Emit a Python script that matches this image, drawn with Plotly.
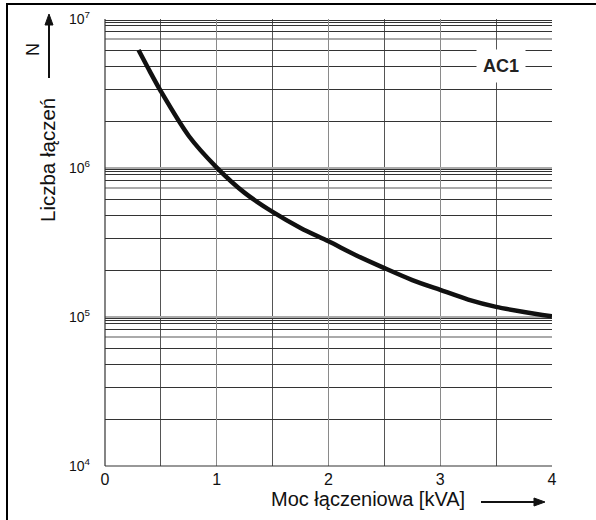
import math
import plotly.graph_objects as go

# Data
power_kva = [0.3, 0.4, 0.5, 0.75, 1.0, 1.25, 1.5, 1.75, 2.0, 2.25, 2.5, 2.75, 3.0, 3.25, 3.5, 3.75, 4.0]
switchings = [6.19e6, 4.47e6, 3.27e6, 1.64e6, 1.007e6, 6.81e5, 5.07e5, 3.96e5, 3.22e5,
              2.59e5, 2.13e5, 1.77e5, 1.52e5, 1.31e5, 1.17e5, 1.08e5, 1.01e5]

decades = [1e4, 1e5, 1e6, 1e7]
decade_labels = ["10<sup>4</sup>", "10<sup>5</sup>", "10<sup>6</sup>", "10<sup>7</sup>"]
grey_mult = [7.35]
dark_mult = [2.05, 3.36, 4.8, 6.15, 8.3, 9.1, 9.5, 9.8]
x_ticks = [0, 1, 2, 3, 4]
x_minor = [0.5, 1.5, 2.5, 3.5]

minor_vals = [d * m for d in decades[:-1] for m in dark_mult]
grey_vals = [d * m for d in decades[:-1] for m in grey_mult]

FONT = "Liberation Sans, Arial, sans-serif"

# figure geometry (pixels)
W, H = 596, 520
L, R, T, B = 105, 44, 19, 54
PW, PH = W - L - R, H - T - B


def px(xpix):
    return (xpix - L) / PW


def py(ypix):
    return (H - B - ypix) / PH


def arrow_path(x0, y0, x1, y1, head=11, half=4):
    dx, dy = x1 - x0, y1 - y0
    n = math.hypot(dx, dy)
    ux, uy = dx / n, dy / n
    bx, by = x1 - ux * head, y1 - uy * head
    pts = [(x1, y1), (bx - uy * half, by + ux * half), (bx + uy * half, by - ux * half)]
    return "M " + " L ".join(f"{px(a):.5f},{py(b):.5f}" for a, b in pts) + " Z"


fig = go.Figure()
fig.add_trace(go.Scatter(
    x=power_kva, y=switchings, mode="lines",
    line=dict(color="#111111", width=4.5, shape="spline", smoothing=0.8),
    hoverinfo="skip", showlegend=False,
))

shapes = [
    # outer frame (extends past the right/bottom edge)
    dict(type="rect", xref="paper", yref="paper",
         x0=px(7), x1=px(700), y0=py(640), y1=py(4),
         line=dict(color="black", width=2), layer="below"),
    # plot left and bottom edges
    dict(type="line", xref="paper", yref="paper", x0=0, x1=0, y0=0, y1=1,
         line=dict(color="#333333", width=1.2)),
    dict(type="line", xref="paper", yref="paper", x0=0, x1=1, y0=0, y1=0,
         line=dict(color="#333333", width=1.2)),
    # axis arrows
    dict(type="line", xref="paper", yref="paper",
         x0=px(49), x1=px(49), y0=py(78), y1=py(22),
         line=dict(color="#111111", width=2)),
    dict(type="path", xref="paper", yref="paper",
         path=arrow_path(49, 78, 49, 14), fillcolor="#111111",
         line=dict(color="#111111", width=1)),
    dict(type="line", xref="paper", yref="paper",
         x0=px(481), x1=px(537), y0=py(502), y1=py(502),
         line=dict(color="#111111", width=2)),
    dict(type="path", xref="paper", yref="paper",
         path=arrow_path(481, 502, 545, 502), fillcolor="#111111",
         line=dict(color="#111111", width=1)),
]
# lighter grid lines inside each decade
for v in grey_vals:
    shapes.append(dict(type="line", xref="paper", yref="y", x0=0, x1=1, y0=v, y1=v,
                       line=dict(color="#aaaaaa", width=2), layer="between"))

fig.update_layout(
    width=W, height=H,
    margin=dict(l=L, r=R, t=T, b=B, autoexpand=False),
    paper_bgcolor="white", plot_bgcolor="white",
    font=dict(family=FONT, color="#111111", size=16),
    xaxis=dict(
        range=[0, 4], tickmode="array", tickvals=x_ticks,
        ticktext=[str(v) for v in x_ticks], automargin=False,
        showgrid=True, gridcolor="#8a8a8a", gridwidth=1.3,
        zeroline=False, showline=False, ticks="",
        ticklabelstandoff=2,
        tickfont=dict(size=16, family=FONT),
        minor=dict(tickmode="array", tickvals=x_minor, showgrid=True,
                   gridcolor="#555555", gridwidth=1, ticks=""),
    ),
    yaxis=dict(
        type="log", range=[4, 7], tickmode="array",
        tickvals=decades, ticktext=decade_labels, automargin=False,
        showgrid=True, gridcolor="#aaaaaa", gridwidth=2,
        zeroline=False, showline=False, ticks="",
        ticklabelstandoff=14,
        tickfont=dict(size=14, family=FONT),
        minor=dict(tickmode="array", tickvals=minor_vals, showgrid=True,
                   gridcolor="#333333", gridwidth=1, ticks=""),
    ),
    shapes=shapes,
    annotations=[
        dict(text="<b>AC1</b>", x=3.545, y=6.685, xref="x", yref="y",
             xanchor="center", yanchor="middle",
             showarrow=False, bgcolor="white", borderpad=6,
             font=dict(size=18, family=FONT, color="#222222")),
        dict(text="Liczba łączeń", xref="paper", yref="paper",
             x=px(47), y=py(160), textangle=-90,
             xanchor="center", yanchor="middle",
             showarrow=False, font=dict(size=20.5, family=FONT)),
        dict(text="N", xref="paper", yref="paper",
             x=px(33), y=py(50), textangle=-90,
             xanchor="center", yanchor="middle",
             showarrow=False, font=dict(size=18, family=FONT)),
        dict(text="Moc łączeniowa [kVA]", xref="paper", yref="paper",
             x=px(368), y=py(499),
             xanchor="center", yanchor="middle",
             showarrow=False, font=dict(size=20, family=FONT)),
    ],
)

fig.write_html(
    "out.html",
    config={"displayModeBar": False, "staticPlot": True},
    post_script="document.body.style.margin='0';document.body.style.padding='0';"
                "document.documentElement.style.overflow='hidden';",
)
